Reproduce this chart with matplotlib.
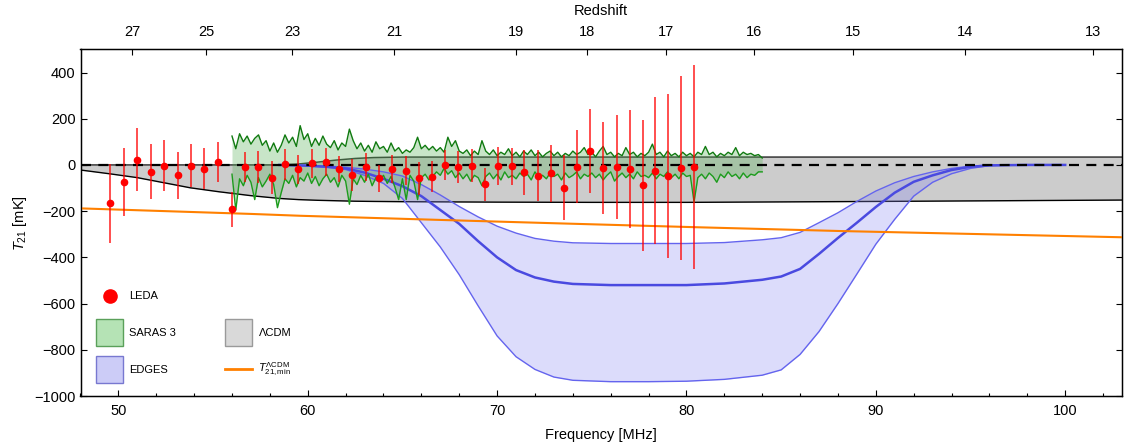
"""
21-cm global signal constraints vs frequency / redshift.
LEDA points, SARAS 3 band, EDGES profile, LCDM range and T21,min line.
"""

import numpy as np
import matplotlib
matplotlib.use("Agg")
import matplotlib.pyplot as plt
from matplotlib.lines import Line2D
from matplotlib.patches import Patch
from matplotlib.legend_handler import HandlerLine2D


# ---------------------------------------------------------------------
# DATA
# ---------------------------------------------------------------------

# LEDA points [MHz], [mK]
leda_freq = [49.56, 50.28, 50.97, 51.71, 52.41, 53.13, 53.84, 54.54, 55.26, 55.99,
             56.69, 57.39, 58.10, 58.80, 59.50, 60.21, 60.95, 61.65, 62.35, 63.06,
             63.77, 64.47, 65.17, 65.88, 66.58, 67.25, 67.95, 68.66, 69.38, 70.06,
             70.77, 71.44, 72.14, 72.85, 73.52, 74.20, 74.92, 75.61, 76.31, 77.00,
             77.69, 78.35, 79.02, 79.73, 80.40]
leda_T = [-166, -73, 23, -29, -3, -45, -3, -16, 13, -192,
          -8, -8, -55, 3, -19, 7, 13, -18, -44, -8,
          -58, -18, -25, -58, -51, 0, -9, -3, -84, -3,
          -6, -32, -47, -37, -99, -8, 59, -13, -10, -19,
          -88, -26, -47, -12, -10]
leda_err = [170, 148, 135, 118, 110, 102, 92, 90, 86, 77,
            65, 70, 70, 68, 62, 64, 60, 58, 70, 60,
            58, 62, 63, 70, 68, 64, 70, 70, 72, 82,
            80, 98, 110, 122, 140, 158, 182, 200, 226, 256,
            284, 318, 356, 398, 442]

# SARAS 3 band, sampled every 0.2 MHz from 56.0 to 84.0
saras_freq = np.round(np.arange(56.0, 84.0001, 0.2), 1)
saras_upper = [125, 70, 135, 100, 125,  90, 115, 130, 85, 105,
               60, 95, 55, 85, 130,     95, 120, 80, 170, 110,
               135, 80, 115, 85, 125,   90, 75, 105, 65, 95,
               80, 155, 105, 70, 95,    60, 85, 55, 100, 70,
               80, 55, 95, 60, 75,      50, 65, 55, 75, 120,
               70, 85, 65, 80, 60,      75, 55, 120, 80, 105,
               60, 50, 65, 40, 60,      45, 105, 60, 45, 65,
               40, 55, 45, 70, 40,      55, 35, 60, 45, 65,
               40, 55, 35, 50, 60,      40, 55, 35, 50, 40,
               60, 45, 55, 75, 45,      55, 35, 60, 80, 45,
               55, 35, 50, 40, 75,      45, 55, 35, 50, 40,
               55, 90, 45, 55, 35,      60, 40, 50, 35, 55,
               40, 50, 35, 55, 45,      80, 45, 55, 35, 50,
               40, 55, 45, 75, 40,      55, 45, 50, 40, 45,
               30]
saras_lower = [-40, -195, -60, -90, -45,  -75, -150, -55, -95, -70,
               -40, -85, -185, -120, -60, -80, -45, -95, -55, -70,
               -35, -80, -50, -90, -60,   -40, -75, -55, -95, -45,
               -70, -170, -60, -85, -45,  -75, -40, -90, -55, -65,
               -45, -80, -50, -95, -150,  -60, -150, -45, -70, -150,
               -55, -40, -65, -50, -30,   -45, -15, -40, -25, -55,
               -35, -60, -40, -70, -45,   -55, -90, -50, -35, -60,
               -40, -65, -30, -55, -45,   -60, -35, -50, -40, -65,
               -30, -55, -45, -60, -35,   -50, -40, -65, -35, -55,
               -45, -30, -60, -40, -50,   -35, -55, -40, -65, -45,
               -30, -70, -50, -35, -55,   -40, -60, -30, -50, -45,
               -55, -35, -60, -40, -50,   -30, -55, -40, -60, -35,
               -50, -45, -160, -55, -40,  -60, -35, -50, -75, -40,
               -55, -30, -50, -40, -60,   -35, -55, -40, -45, -30,
               -30]

# EDGES profile: upper edge, best fit, lower edge
edges_freq = [58.5, 60, 61, 62, 63, 64, 65, 66, 67, 68, 69, 70, 71, 72, 73, 74, 76, 78,
              80, 82, 84, 85, 86, 87, 88, 89, 90, 91, 92, 93, 94, 95, 96, 98, 100]
edges_upper = [0, -2, -5, -10, -18, -30, -48, -85, -130, -180, -225, -265, -295, -318,
               -330, -337, -340, -340, -340, -336, -324, -315, -292, -250, -207, -158,
               -113, -77, -50, -30, -15, -5, -1, 0, 0]
edges_mid = [0, -3, -8, -15, -33, -60, -92, -135, -195, -255, -330, -400, -455, -487,
             -505, -515, -520, -520, -520, -513, -497, -483, -450, -385, -316, -250,
             -182, -120, -73, -45, -22, -8, -2, 0, 0]
edges_lower = [0, -5, -10, -20, -45, -80, -145, -250, -355, -475, -610, -740, -830, -885,
               -918, -932, -938, -938, -936, -928, -910, -887, -820, -721, -600, -472,
               -343, -235, -135, -75, -38, -15, -3, 0, 0]

# LCDM range
lcdm_freq = [48, 49.6, 51, 52.4, 53.8, 55.3, 57, 58.5, 59.5, 60.5, 61.5, 62.5, 63.5,
             65, 70, 75, 80, 90, 103]
lcdm_upper = [0, 0, 0, 0, 0, 0, 0, 0, 4, 12, 21, 28, 32, 34, 34, 34, 34, 34, 34]
lcdm_lower = [-22, -39, -55, -77, -99, -116, -133, -145, -150, -153, -155, -157, -158,
              -159, -161, -162, -162, -158, -152]

# T21,min for LCDM
tmin_freq = [48, 57, 59.6, 67, 73.3, 80.7, 88.1, 103]
tmin_T = [-188, -212, -220, -238, -253, -270, -286, -313]

# Redshift ticks on top axis
z_ticks = [27, 25, 23, 21, 19, 18, 17, 16, 15, 14, 13]
nu_21 = 1420.4


# ---------------------------------------------------------------------
# STYLE
# ---------------------------------------------------------------------

plt.rcParams['font.family'] = ['Liberation Sans', 'DejaVu Sans']
plt.rcParams['mathtext.fontset'] = 'custom'
plt.rcParams['mathtext.rm'] = 'Liberation Sans'
plt.rcParams['mathtext.it'] = 'Liberation Sans:italic'
plt.rcParams['mathtext.bf'] = 'Liberation Sans:bold'
plt.rcParams['axes.unicode_minus'] = True


# legend line/marker handles centred on the square patch rows
class CentredLine(HandlerLine2D):
    def create_artists(self, legend, orig_handle, xdescent, ydescent, width, height,
                       fontsize, trans):
        return super().create_artists(legend, orig_handle, xdescent, ydescent, width,
                                      height - ydescent, fontsize, trans)


# ---------------------------------------------------------------------
# PLOT
# ---------------------------------------------------------------------

fig = plt.figure(figsize=(11.27, 4.44), dpi=100)
ax = fig.add_axes([80.5 / 1127, 1 - 396 / 444, (1122 - 80.5) / 1127, (396 - 49.4) / 444])

# LCDM band
ax.fill_between(lcdm_freq, lcdm_lower, lcdm_upper, color='#cccccc', lw=0, zorder=1)
ax.plot(lcdm_freq, lcdm_upper, color='#333333', lw=1.1, zorder=2)
ax.plot(lcdm_freq, lcdm_lower, color='black', lw=1.0, zorder=2)

# EDGES
ax.fill_between(edges_freq, edges_lower, edges_upper, color='#8c8cf2', alpha=0.3,
                lw=0, zorder=3)
ax.plot(edges_freq, edges_upper, color='#6464ee', lw=1.0, zorder=4)
ax.plot(edges_freq, edges_lower, color='#6464ee', lw=1.0, zorder=4)
ax.plot(edges_freq, edges_mid, color='#4a4ae0', lw=1.8, zorder=4)

# SARAS 3
ax.fill_between(saras_freq, saras_lower, saras_upper, color='#5ab35a', alpha=0.33,
                lw=0, zorder=3)
ax.plot(saras_freq, saras_upper, color='#107a10', lw=1.0, zorder=4)
ax.plot(saras_freq, saras_lower, color='#1c9c1c', lw=1.0, zorder=4)

# zero line and T21,min
ax.axhline(0, color='black', lw=1.6, ls=(0, (4.5, 3.3)), zorder=5)
ax.plot(tmin_freq, tmin_T, color='#ff8000', lw=1.5, zorder=5)

# LEDA
ax.errorbar(leda_freq, leda_T, yerr=leda_err, fmt='none', ecolor='red',
            elinewidth=1.3, alpha=0.75, zorder=6)
ax.plot(leda_freq, leda_T, 'o', color='red', ms=4.5, zorder=7)

ax.set_xlim(48, 103)
ax.set_ylim(-1000, 500)
ax.set_xticks([50, 60, 70, 80, 90, 100])
ax.set_xticks(np.arange(48, 103, 2), minor=True)
ax.set_yticks([-1000, -800, -600, -400, -200, 0, 200, 400])
ax.set_yticks(np.arange(-1000, 501, 50), minor=True)
ax.tick_params(which='both', direction='in', top=False, right=True, width=0.8,
               labelsize=10.5)
ax.tick_params(which='major', length=4.5)
ax.tick_params(which='minor', length=2.5)
ax.tick_params(axis='x', pad=5.5)
for s in ax.spines.values():
    s.set_linewidth(1.0)

ax.set_xlabel('Frequency [MHz]', fontsize=10.5, labelpad=7.5)
ax.set_ylabel('$T_{21}$ [mK]', fontsize=10.5, labelpad=4)

# top axis: redshift
ax_top = ax.twiny()
ax_top.set_xlim(ax.get_xlim())
ax_top.set_xticks([nu_21 / (1 + z) for z in z_ticks])
ax_top.set_xticklabels([str(z) for z in z_ticks])
ax_top.tick_params(direction='in', length=4.5, width=0.8, labelsize=10.5, pad=7.5)
ax_top.minorticks_off()
ax_top.set_xlabel('Redshift', fontsize=10.5, labelpad=7.5)

# legend
leda_h = Line2D([], [], marker='o', ls='none', color='red', markersize=9.5)
tmin_h = Line2D([], [], color='#ff8000', lw=2)
handles = [
    leda_h,
    Patch(facecolor='#b5e3b5', edgecolor='#5aa05a', lw=1),
    Patch(facecolor='#ccccf7', edgecolor='#7878d0', lw=1),
    Line2D([], [], ls='none'),
    Patch(facecolor='#d9d9d9', edgecolor='#9a9a9a', lw=1),
    tmin_h,
]
labels = ['LEDA', 'SARAS 3', 'EDGES', '', 'ΛCDM',
          r'$T_{21,\mathrm{min}}^{\Lambda\mathrm{CDM}}$']
ax.legend(handles, labels, ncol=2, loc='lower left', bbox_to_anchor=(0.0149, 0.0375),
          frameon=False, fontsize=8, handlelength=2.45, handleheight=3.39,
          handletextpad=0.55, labelspacing=0.85, columnspacing=4.4,
          borderpad=0, borderaxespad=0,
          handler_map={leda_h: CentredLine(), tmin_h: CentredLine()})

fig.savefig('out.png', dpi=100)
